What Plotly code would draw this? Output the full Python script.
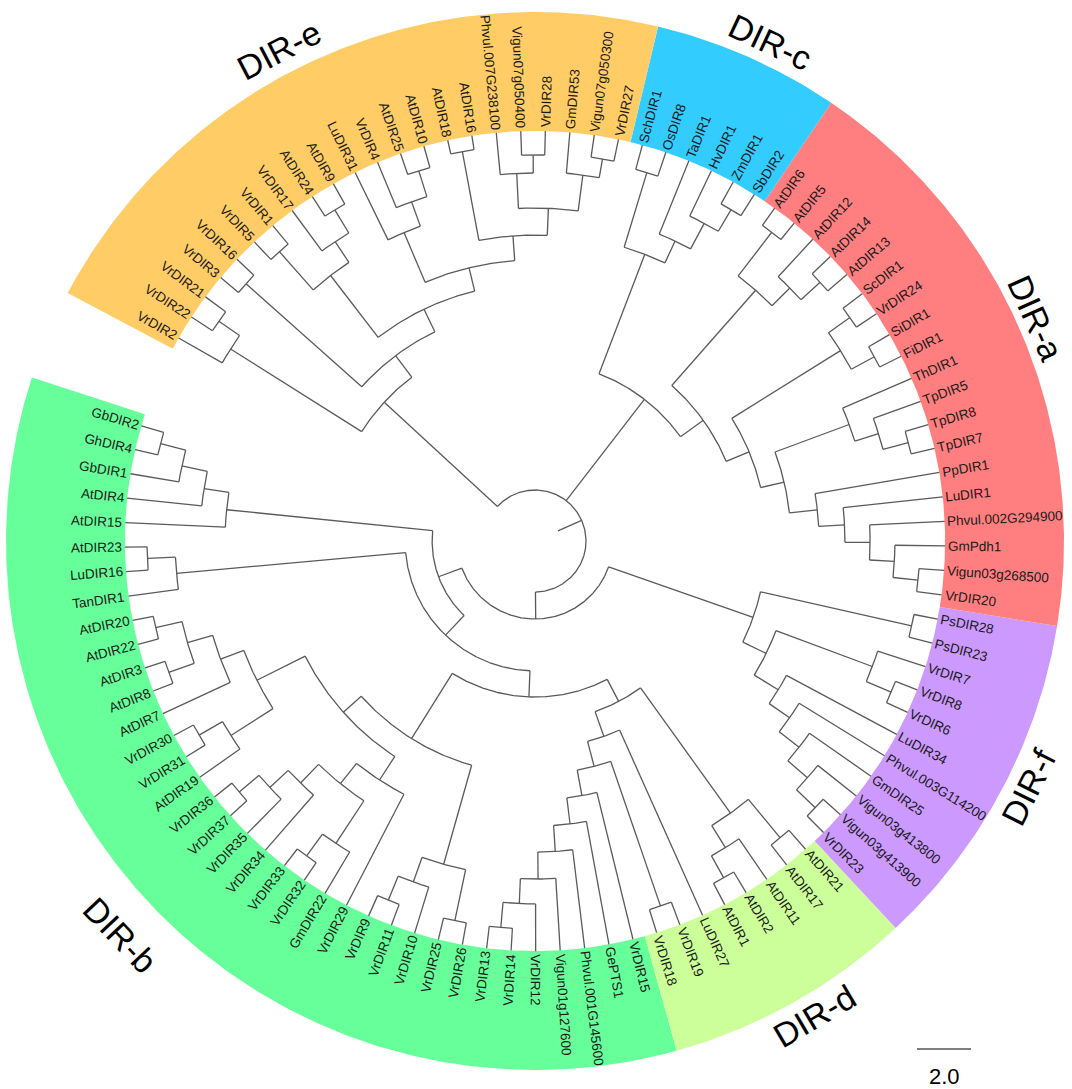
import numpy as np
import plotly.graph_objects as go

# ---- tree data: "(child,child)depth", depth = distance of the node from the centre (tree units) ----
tip_depth = 15.19
root_stub = 0.93

b_top = "((((GbDIR2,GhDIR4)14.33,GbDIR1)13.37,AtDIR4)12.41,AtDIR15)11.48"
b_tan = "((AtDIR23,LuDIR16)14.37,TanDIR1)13.33"
b_at = "(((AtDIR20,AtDIR22)14.41,(AtDIR3,AtDIR8)14.41)13.41,AtDIR7)12.44"
b_vr30 = "((VrDIR30,VrDIR31)14.37,AtDIR19)13.37"
b_vr36 = "(((VrDIR36,VrDIR37)14.37,VrDIR35)13.41,VrDIR34)12.48"
b_vr33 = "((VrDIR33,VrDIR32)14.41,GmDIR22)13.41"
b_vr9 = "(((VrDIR9,VrDIR11)14.37,VrDIR10)13.41,(VrDIR25,VrDIR26)14.37)12.44"
b_vr13 = ("((((((VrDIR13,VrDIR14)14.37,VrDIR12)13.44,Vigun01g127600)12.52,"
          "Phvul.001G145600)11.52,GePTS1)10.56,VrDIR15)9.59")
d_at = "(((AtDIR1,AtDIR2)14.30,AtDIR11)13.37,(AtDIR17,AtDIR21)14.26)12.41"
f_all = ("(((((((VrDIR23,Vigun03g413900)14.33,Vigun03g413800)13.37,GmDIR25)12.41,"
         "Phvul.003G114200)11.48,LuDIR34)10.56,((VrDIR6,VrDIR8)14.33,VrDIR7)13.33)9.52,"
         "(PsDIR23,PsDIR28)14.30)8.56")
a_pp = ("(((((VrDIR20,Vigun03g268500)14.26,GmPdh1)13.33,Phvul.002G294900)12.41,"
        "LuDIR1)11.48,PpDIR1)10.52")
a_tp = "(((TpDIR7,TpDIR8)14.30,TpDIR5)13.33,ThDIR1)12.41"
a_fi = "((FiDIR1,SiDIR1)14.30,(VrDIR24,ScDIR1)14.30)13.33"
a_at = "(((AtDIR13,AtDIR14)14.26,AtDIR12)13.30,(AtDIR5,AtDIR6)14.41)12.37"
c_all = "((((SbDIR2,ZmDIR1)14.26,HvDIR1)13.33,TaDIR1)12.26,(OsDIR8,SchDIR1)14.26)11.37"
e_leg = ("(((VrDIR27,Vigun07g050300)14.37,GmDIR53)13.67,"
         "((VrDIR28,Vigun07g050400)14.30,Phvul.007G238100)13.63)12.33")
e_at10 = "(((AtDIR10,AtDIR25)14.37,VrDIR4)13.37,LuDIR31)12.41"
e_at9 = "(((AtDIR9,AtDIR24)14.33,VrDIR17)13.33,(VrDIR1,VrDIR5)14.30)12.41"
e_vr2 = "((VrDIR21,VrDIR22)14.26,VrDIR2)13.33"

grp_y = f"((({b_at},{b_vr30})11.52,(({b_vr36},{b_vr33})11.52,VrDIR29)10.56)9.52,{b_vr9})8.63"
grp_s = f"((({b_vr13},(VrDIR18,VrDIR19)14.30)8.63,LuDIR27)7.67,{d_at})6.70"
grp_bdf = f"(({b_top},({b_tan},({grp_y},{grp_s})5.78)4.81)3.81,{f_all})2.89"
grp_ca = f"(((({a_pp},{a_tp})9.48,{a_fi})8.59,{a_at})7.67,{c_all})6.63"
grp_e = (f"((((({e_leg},(AtDIR16,AtDIR18)14.67)11.33,{e_at10})10.41,{e_at9})9.52,"
         f"(VrDIR16,VrDIR3)14.33)8.59,{e_vr2})7.59")
tree_str = f"({grp_bdf},{grp_ca},{grp_e})1.89"

clade_names = ["DIR-b", "DIR-d", "DIR-f", "DIR-a", "DIR-c", "DIR-e"]
clade_first = ["GbDIR2", "VrDIR18", "VrDIR23", "VrDIR20", "SbDIR2", "VrDIR27"]
clade_last = ["VrDIR15", "AtDIR21", "PsDIR28", "AtDIR6", "SchDIR1", "VrDIR2"]
clade_colors = ["#66FF99", "#CCFF99", "#CC99FF", "#FF7F80", "#33CCFF", "#FFCC66"]

scale_value = 2.0
scale_text = "2.0"

# ---- layout constants ----
W, H = 1072, 1089
CX, CY, PPU = 535, 541, 27.0      # centre in pixels, pixels per tree unit
START, STEP = 163.7, 3.432        # angle of first leaf, angle between leaves
BAND_OUT = 529 / PPU
FONT = "Liberation Sans, Arial, sans-serif"
LEAF_SIZE = 13.5
# where the clade names sit (angle in degrees, radius in pixels)
CLADE_POS = {"DIR-b": (223.5, 572), "DIR-d": (300.5, 551), "DIR-f": (333.5, 552),
             "DIR-a": (24.0, 548), "DIR-c": (64.8, 552), "DIR-e": (117.5, 553)}

AW = {'A': 667, 'B': 667, 'C': 722, 'D': 722, 'E': 667, 'F': 611, 'G': 778, 'H': 722,
      'I': 278, 'L': 556, 'O': 778, 'P': 667, 'R': 722, 'S': 667, 'T': 611, 'V': 667,
      'Z': 611, 'a': 556, 'b': 556, 'c': 500, 'd': 556, 'e': 556, 'g': 556, 'h': 556,
      'i': 222, 'l': 222, 'm': 833, 'n': 556, 'p': 556, 'r': 333, 's': 500, 't': 278,
      'u': 556, 'v': 500, 'y': 500, '.': 278, '-': 333}


def text_width(s, size):
    return sum(AW.get(ch, 556) for ch in s) * size / 1000.0


def parse(s):
    pos = 0

    def node():
        nonlocal pos
        if s[pos] == "(":
            pos += 1
            kids = [node()]
            while s[pos] == ",":
                pos += 1
                kids.append(node())
            pos += 1
            st = pos
            while pos < len(s) and s[pos] not in ",()":
                pos += 1
            return {"kids": kids, "depth": float(s[st:pos])}
        st = pos
        while pos < len(s) and s[pos] not in ",()":
            pos += 1
        return {"name": s[st:pos], "depth": tip_depth}

    return node()


root = parse(tree_str)
leaves = []


def place(n):
    if "kids" not in n:
        n["angle"] = START + len(leaves) * STEP
        leaves.append(n)
        return
    for k in n["kids"]:
        place(k)
    n["angle"] = (n["kids"][0]["angle"] + n["kids"][-1]["angle"]) / 2


place(root)
leaf_idx = {l["name"]: i for i, l in enumerate(leaves)}


def pol(r, a):
    t = np.radians(a)
    return r * np.cos(t), r * np.sin(t)


def arc(r, a0, a1):
    n = max(2, int(abs(a1 - a0) / 0.4) + 1)
    t = np.radians(np.linspace(a0, a1, n))
    return list(r * np.cos(t)), list(r * np.sin(t))


lx, ly = [], []


def draw(n):
    if "kids" not in n:
        return
    ax, ay = arc(n["depth"], n["kids"][0]["angle"], n["kids"][-1]["angle"])
    lx.extend(ax + [None])
    ly.extend(ay + [None])
    for k in n["kids"]:
        x0, y0 = pol(n["depth"], k["angle"])
        x1, y1 = pol(k["depth"], k["angle"])
        lx.extend([x0, x1, None])
        ly.extend([y0, y1, None])
        draw(k)


draw(root)
x0, y0 = pol(root_stub, root["angle"])
x1, y1 = pol(root["depth"], root["angle"])
lx.extend([x0, x1, None])
ly.extend([y0, y1, None])

fig = go.Figure()

# coloured clade bands
for name, a, b, col in zip(clade_names, clade_first, clade_last, clade_colors):
    a0 = leaves[leaf_idx[a]]["angle"] - STEP / 2
    a1 = leaves[leaf_idx[b]]["angle"] + STEP / 2
    ox, oy = arc(BAND_OUT, a0, a1)
    ix, iy = arc(tip_depth, a1, a0)
    fig.add_trace(go.Scatter(x=ox + ix + [ox[0]], y=oy + iy + [oy[0]], mode="lines",
                             fill="toself", fillcolor=col, line=dict(width=0),
                             hoverinfo="skip"))

fig.add_trace(go.Scatter(x=lx, y=ly, mode="lines",
                         line=dict(color="#5a5a5a", width=1.3), hoverinfo="skip"))

ann = []
for l in leaves:
    a = l["angle"] % 360
    w = text_width(l["name"], LEAF_SIZE) / PPU
    rc = tip_depth + 3 / PPU + w / 2
    x, y = pol(rc, a)
    if 90 < a < 270:
        ta = 180 - a
    else:
        ta = -a
    ta = (ta + 180) % 360 - 180
    ann.append(dict(x=x, y=y, text=l["name"], showarrow=False, textangle=ta,
                    xanchor="center", yanchor="middle",
                    font=dict(family=FONT, size=LEAF_SIZE, color="#1a1a1a")))

for name in clade_names:
    am, rp = CLADE_POS[name]
    x, y = pol(rp / PPU, am)
    ta = 90 - am if am < 180 else 270 - am
    ann.append(dict(x=x, y=y, text=name, showarrow=False, textangle=ta,
                    xanchor="center", yanchor="middle",
                    font=dict(family=FONT, size=34, color="black")))

# scale bar
sb_x, sb_y = (917 - CX) / PPU, (CY - 1049) / PPU
fig.add_trace(go.Scatter(x=[sb_x, sb_x + scale_value], y=[sb_y, sb_y], mode="lines",
                         line=dict(color="#555555", width=1.5), hoverinfo="skip"))
ann.append(dict(x=sb_x + scale_value / 2, y=(CY - 1076) / PPU, text=scale_text,
                showarrow=False, xanchor="center", yanchor="middle",
                font=dict(family=FONT, size=22, color="black")))

fig.update_layout(
    width=W, height=H, margin=dict(l=0, r=0, t=0, b=0),
    paper_bgcolor="white", plot_bgcolor="white", showlegend=False,
    xaxis=dict(range=[-CX / PPU, (W - CX) / PPU], visible=False, fixedrange=True),
    yaxis=dict(range=[-(H - CY) / PPU, CY / PPU], visible=False, fixedrange=True),
    annotations=ann,
)

fig.write_html("out.html", config={"displayModeBar": False},
               post_script="document.body.style.margin='0';document.body.style.overflow='hidden';")
